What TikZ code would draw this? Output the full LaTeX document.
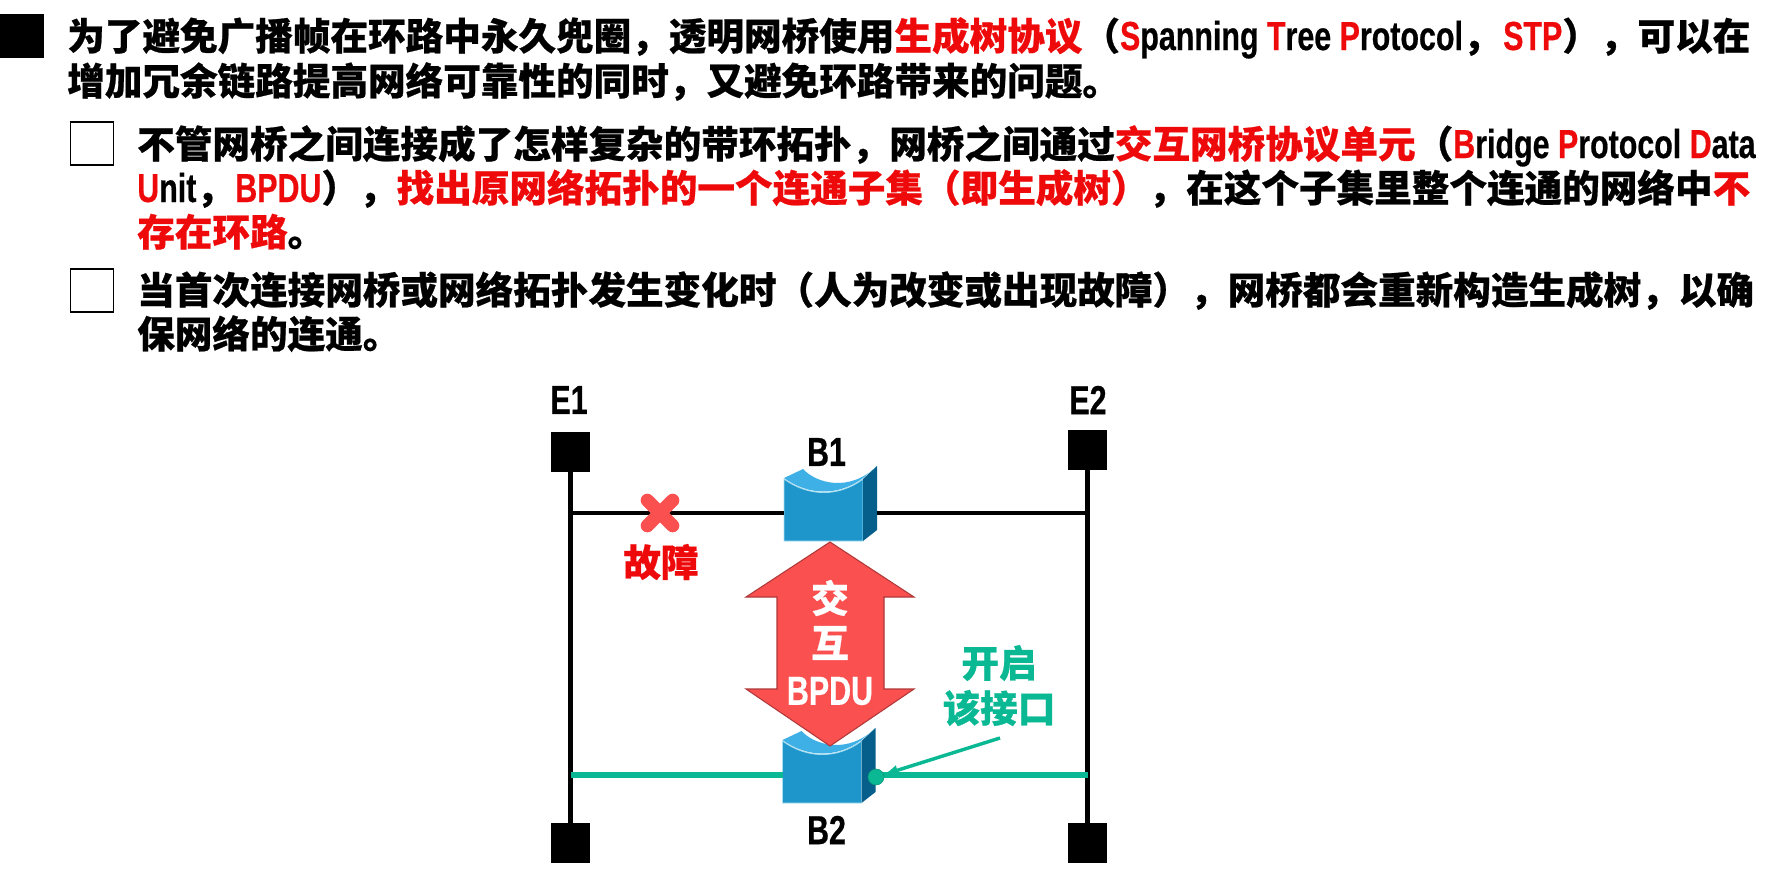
\documentclass[tikz,border=0pt]{standalone}
\usepackage{fontspec}
\setmainfont[BoldFeatures={FakeBold=0.6}]{Noto Sans CJK SC}
\newfontfamily\latinfont[FakeStretch=0.75,BoldFeatures={FakeBold=0.5}]{Liberation Sans}
\usetikzlibrary{shapes.misc}
\definecolor{stpred}{HTML}{EE0A0A}
\definecolor{softred}{HTML}{FB5050}
\definecolor{portgreen}{HTML}{0BB894}
\definecolor{bridgefront}{HTML}{1E96CC}
\definecolor{bridgeside}{HTML}{065F8A}
\definecolor{bridgetop}{HTML}{3FB0E6}
\definecolor{bridgeedge}{HTML}{A8DDF0}
\newcommand{\la}[1]{{\latinfont\fontsize{30.4}{34}\selectfont\bfseries #1}}
\newcommand{\re}[1]{\textcolor{stpred}{#1}}
\tikzset{
    line/.style={anchor=base west, inner sep=0pt, font=\fontsize{28.2}{34}\selectfont\bfseries},
    lbl/.style={inner sep=0pt, font=\fontsize{28.2}{34}\selectfont\bfseries},
    station/.style={fill=black, minimum width=29.25pt, minimum height=29.5pt, inner sep=0pt},
    tick/.style={draw=black, line width=1.3pt, fill=white},
    bridge/.pic={
        \fill[bridgefront, draw=bridgeedge, line width=.7pt] (0,0) -- (0,-62) .. controls (25,-44) and (55,-44) .. (79,-62) -- (79,0) -- cycle;
        \fill[bridgeside] (79,0) -- (93,-11) -- (93,-75) -- (79,-62) -- cycle;
        \fill[bridgetop] (0,-63) -- (19,-72) .. controls (32,-58) and (65,-48) .. (93,-75) -- (79,-63) .. controls (55,-45) and (25,-45) .. (0,-63) -- cycle;
        \coordinate (-w) at (0,-28);
        \coordinate (-e) at (93,-28);
    },
}
\begin{document}
\begin{tikzpicture}[x=0.75pt,y=-0.75pt]
    \useasboundingbox (0,0) rectangle (1788,879);

    % bullets
    \fill[black] (0,14) rectangle (44,58);
    \draw[tick] (70.5,122) rectangle (113.5,165);
    \draw[tick] (70.5,269) rectangle (113.5,312);

    % text lines
    \node[line] (t1) at (67,50) {为了避免广播帧在环路中永久兜圈，透明网桥使用\re{生成树协议}（\la{\re{S}panning \re{T}ree \re{P}rotocol}，\hspace{2pt}\la{\re{STP}}），可以在};
    \node[line] (t2) at (67,95) {增加冗余链路提高网络可靠性的同时，又避免环路带来的问题。};
    \node[line] (s1) at (137,158) {不管网桥之间连接成了怎样复杂的带环拓扑，网桥之间通过\re{交互网桥协议单元}（\la{\re{B}ridge \re{P}rotocol \re{D}ata}};
    \node[line] (s2) at (137,202) {\la{\re{U}nit}，\hspace{1pt}\la{\re{BPDU}}），\re{找出原网络拓扑的一个连通子集（即生成树）}，在这个子集里整个连通的网络中\re{不}};
    \node[line] (s3) at (137,246) {\re{存在环路}。};
    \node[line] (s4) at (137,304) {当首次连接网桥或网络拓扑发生变化时（人为改变或出现故障），网桥都会重新构造生成树，以确};
    \node[line] (s5) at (137,348) {保网络的连通。};

    % stations
    \node[station] (e1t) at (570.5,452) {};
    \node[station] (e2t) at (1087.5,450) {};
    \node[station] (e1b) at (570.5,843) {};
    \node[station] (e2b) at (1087.5,843) {};
    \node[lbl] (e1) at (569,400) {\la{E1}};
    \node[lbl] (e2) at (1088,400) {\la{E2}};
    \draw[line width=3.6pt] (e1t) -- (e1b);
    \draw[line width=3.6pt] (e2t) -- (e2b);

    % bridges
    \pic (b1) at (784,541) {bridge};
    \pic (b2) at (782.5,803) {bridge};
    \node[lbl] (b1l) at (826.5,452) {\la{B1}};
    \node[lbl] (b2l) at (826.5,830) {\la{B2}};
    \coordinate (j1) at (571,513);
    \coordinate (j2) at (1088,513);
    \coordinate (j3) at (571,775);
    \coordinate (j4) at (1088,775);
    \draw[line width=2.6pt] (j1) -- (b1-w);
    \draw[line width=2.6pt] (b1-e) -- (j2);
    \draw[portgreen, line width=4.2pt] (j3) -- (b2-w);
    \draw[portgreen, line width=4.2pt] (b2-e) -- (j4);

    % failure
    \node[cross out, draw=softred, line width=10pt, line cap=round, inner sep=0pt, outer sep=0pt, minimum size=19pt] (fail) at (660,513) {};
    \node[lbl, stpred] (faillbl) at (661,562) {故障};

    % exchange arrow
    \draw[fill=softred, draw=softred!70!black, line width=.8pt] (830,542) -- (914,597) -- (884,597) -- (884,689) -- (914,689) -- (830,746) -- (746,689) -- (777,689) -- (777,597) -- (746,597) -- cycle;
    \node[lbl, white] (x1) at (830,598) {交};
    \node[lbl, white] (x2) at (830,643) {互};
    \node[lbl, white] (x3) at (830,691) {\la{BPDU}};

    % open port
    \node[lbl, portgreen] (open1) at (999,663) {开启};
    \node[lbl, portgreen] (open2) at (999,708) {该接口};
    \coordinate (from) at (1000,738);
    \node[circle, fill=portgreen, draw=portgreen!80!black, inner sep=0pt, minimum size=12pt] (port) at (876,777) {};
    \draw[->, >=latex, portgreen, line width=2.6pt] (from) -- (port);
\end{tikzpicture}
\end{document}
